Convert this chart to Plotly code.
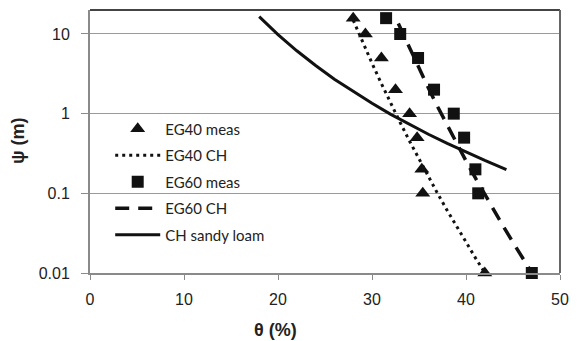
import plotly.graph_objects as go

# ---- data ----
eg40_meas_theta = [28.0, 29.3, 31.0, 32.5, 34.0, 34.8, 35.3, 35.4, 42.0]
eg40_meas_psi = [15.8, 10, 5, 2, 1, 0.5, 0.2, 0.1, 0.01]
eg60_meas_theta = [31.5, 33.0, 34.9, 36.6, 38.7, 39.8, 41.0, 41.3, 47.0]
eg60_meas_psi = [15.8, 10, 5, 2, 1, 0.5, 0.2, 0.1, 0.01]

eg40_ch_theta = [28, 29, 30, 31, 32, 33, 34, 35, 36, 37, 38, 39, 40, 41, 42]
eg40_ch_psi = [14.9, 7.9, 4.30, 2.38, 1.34, 0.772, 0.451, 0.268, 0.161,
               0.0984, 0.061, 0.0382, 0.0242, 0.0155, 0.0101]

eg60_ch_theta = [32.8, 34, 35, 36, 37, 38, 39, 40, 41, 42, 43, 44, 45, 46, 47]
eg60_ch_psi = [13.5, 6.58, 3.69, 2.10, 1.21, 0.712, 0.424, 0.255, 0.156,
               0.0961, 0.060, 0.0379, 0.0242, 0.0156, 0.0101]

sandy_theta = [18, 20, 22, 24, 26, 28, 30, 32, 34, 36, 38, 40, 42, 44.3]
sandy_psi = [16.5, 9.82, 6.15, 4.02, 2.71, 1.89, 1.35, 0.98, 0.729, 0.551,
             0.423, 0.329, 0.259, 0.199]

x_ticks = [0, 10, 20, 30, 40, 50]
y_ticks = [0.01, 0.1, 1, 10]
y_tick_text = ["0.01", "0.1", "1", "10"]

BLACK = "#111111"

fig = go.Figure()

fig.add_trace(go.Scatter(x=eg40_ch_theta, y=eg40_ch_psi, mode="lines", name="EG40 CH",
                         line=dict(color=BLACK, width=3, dash="3px,4px"),
                         legendrank=2, legendgroup="b"))
fig.add_trace(go.Scatter(x=eg60_ch_theta, y=eg60_ch_psi, mode="lines", name="EG60 CH",
                         line=dict(color=BLACK, width=3.5, dash="14px,9px"),
                         legendrank=4, legendgroup="d"))
fig.add_trace(go.Scatter(x=sandy_theta, y=sandy_psi, mode="lines", name="CH sandy loam",
                         line=dict(color=BLACK, width=3),
                         legendrank=5, legendgroup="e"))
fig.add_trace(go.Scatter(x=eg40_meas_theta, y=eg40_meas_psi, mode="markers", name="EG40 meas",
                         marker=dict(symbol="triangle-up", size=13, color=BLACK),
                         cliponaxis=False, legendrank=1, legendgroup="a"))
fig.add_trace(go.Scatter(x=eg60_meas_theta, y=eg60_meas_psi, mode="markers", name="EG60 meas",
                         marker=dict(symbol="square", size=12, color=BLACK),
                         cliponaxis=False, legendrank=3, legendgroup="c"))

fig.update_layout(
    width=579, height=341,
    margin=dict(l=90, r=12, t=10, b=68),
    paper_bgcolor="white", plot_bgcolor="white",
    font=dict(family="Liberation Sans, Arial, sans-serif", color="#222222"),
    showlegend=True,
    legend=dict(x=0.043, y=0.61, xanchor="left", yanchor="top",
                bgcolor="rgba(0,0,0,0)", borderwidth=0,
                font=dict(family="Lato, sans-serif", size=15, color="#222222"),
                itemwidth=45, tracegroupgap=4, traceorder="grouped"),
    xaxis=dict(range=[0, 50], tickvals=x_ticks, showgrid=False, zeroline=False,
               showline=True, linecolor="#8a8a8a", linewidth=2,
               ticks="outside", ticklen=5, tickcolor="#8a8a8a", tickwidth=1,
               tickfont=dict(size=16), ticklabelstandoff=6),
    yaxis=dict(type="log", range=[-2, 1.301], tickvals=y_ticks, ticktext=y_tick_text,
               showgrid=True, gridcolor="#9a9a9a", gridwidth=1, zeroline=False,
               showline=True, linecolor="#8a8a8a", linewidth=2,
               ticks="outside", ticklen=7, tickcolor="#8a8a8a", tickwidth=1,
               tickfont=dict(size=16), ticklabelstandoff=8),
    shapes=[
        dict(type="line", xref="paper", yref="paper", x0=0, x1=1, y0=1, y1=1,
             line=dict(color="#444444", width=2)),
        dict(type="line", xref="paper", yref="paper", x0=1, x1=1, y0=0, y1=1,
             line=dict(color="#666666", width=2)),
    ],
    annotations=[
        dict(text="<b>θ (%)</b>", xref="paper", yref="paper", x=(278 - 90) / 477, y=-57 / 263,
             xanchor="center", yanchor="middle", showarrow=False,
             font=dict(size=18, family="Liberation Sans, Arial, sans-serif", color="#222222")),
        dict(text="<b>ψ (m)</b>", xref="paper", yref="paper", x=-(90 - 17) / 477, y=(273 - 141) / 263,
             xanchor="center", yanchor="middle", showarrow=False, textangle=-90,
             font=dict(size=18, family="Liberation Sans, Arial, sans-serif", color="#222222")),
    ],
)

fig.write_html("out.html")
